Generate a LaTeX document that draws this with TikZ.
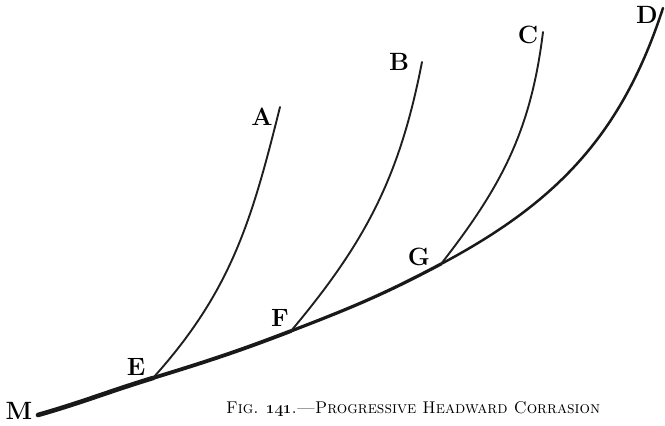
\documentclass[tikz,border=0pt]{standalone}
\usetikzlibrary{calc}
\begin{document}
\begin{tikzpicture}[x=1pt,y=1pt,
  branch/.style={line width=1.9pt,color=black!88,line cap=round},
  trunk/.style={color=black!90,line cap=round},
  lbl/.style={font=\fontsize{25}{25}\selectfont\bfseries,inner sep=0pt}]
\useasboundingbox (0,0) rectangle (665,426);
% junction points and ends
\coordinate (m0) at (38,11);
\coordinate (e0) at (153,48);
\coordinate (f0) at (291,95);
\coordinate (g0) at (441,162);
\coordinate (d0) at (663,418);
\coordinate (a0) at (280,319);
\coordinate (b0) at (422,364);
\coordinate (c0) at (543,394);
% trunk, tapering
\draw[trunk,line width=4.6pt] (m0) to[out=16,in=197] (e0);
\draw[trunk,line width=3.8pt] (e0) to[out=17,in=201] (f0);
\draw[trunk,line width=3.2pt] (f0) to[out=21,in=208] (g0);
\draw[trunk,line width=2.5pt] (g0) to[out=28,in=252] (d0);
% branches
\draw[branch] (e0) to[out=48,in=256] (a0);
\draw[branch] (f0) to[out=50,in=259] (b0);
\draw[branch] (g0) to[out=52,in=263] (c0);
% labels
\node[lbl] (la) at (262,309) {A};
\node[lbl] (lb) at (399,364) {B};
\node[lbl] (lc) at (528,391) {C};
\node[lbl] (ld) at (647,411) {D};
\node[lbl] (le) at (136,59) {E};
\node[lbl] (lf) at (280,108) {F};
\node[lbl] (lg) at (419,169) {G};
\node[lbl] (lm) at (19,15) {M};
\node[inner sep=0pt,anchor=base west] (cap) at (226,12) {\resizebox{374pt}{12pt}{\textsc{Fig. \oldstylenums{141}.---Progressive Headward Corrasion}}};
\end{tikzpicture}
\end{document}
